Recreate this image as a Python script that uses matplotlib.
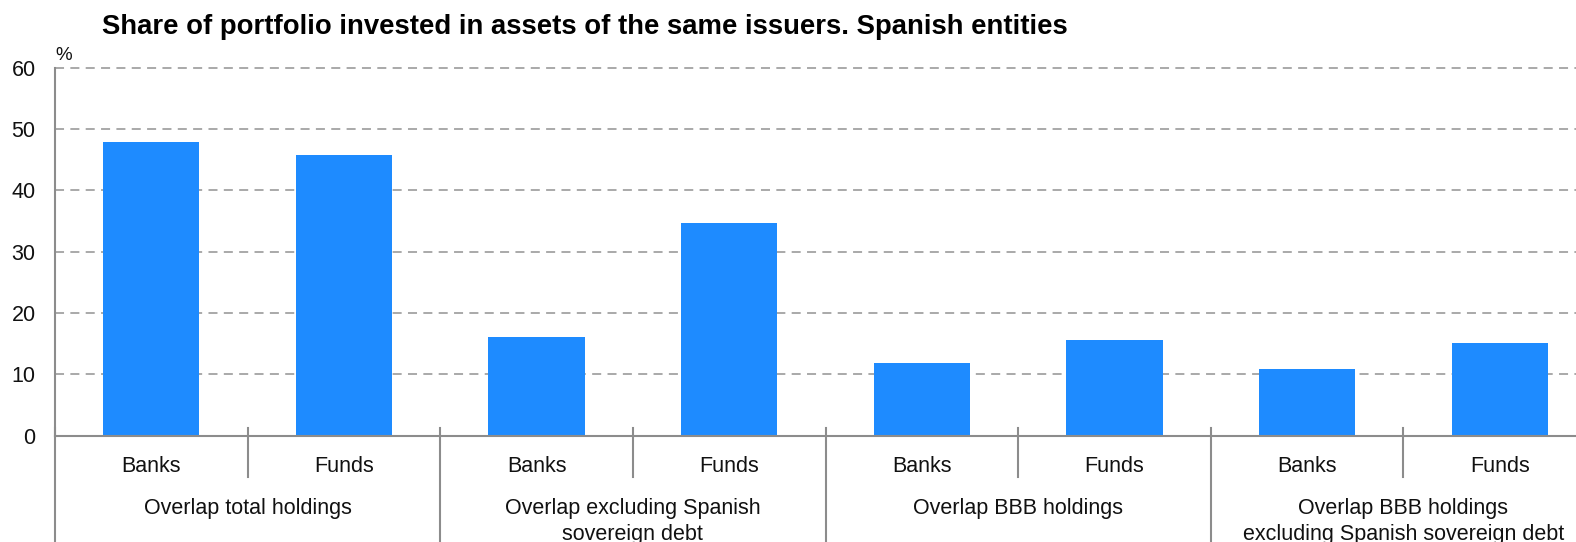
import matplotlib
matplotlib.use("Agg")
import matplotlib.pyplot as plt
from matplotlib.lines import Line2D
from matplotlib.transforms import blended_transform_factory

plt.rcParams['font.family'] = ['Liberation Sans', 'DejaVu Sans']

# Data
groups = ["Overlap total holdings",
          "Overlap excluding Spanish\nsovereign debt",
          "Overlap BBB holdings",
          "Overlap BBB holdings\nexcluding Spanish sovereign debt"]
sectors = ["Banks", "Funds"]
banks = [47.8, 16.1, 11.8, 10.8]
funds = [45.8, 34.7, 15.5, 15.1]
yticks = [0, 10, 20, 30, 40, 50, 60]

title = "Share of portfolio invested in assets of the same issuers. Spanish entities"
bar_color = "#1E8BFF"
grid_color = "#A3A3A3"
axis_color = "#8C8C8C"
text_color = "#111111"

W, H = 1576, 542
fig = plt.figure(figsize=(W / 100, H / 100), dpi=100)

left_px, right_px = 55, 1596
top_px, zero_px = 67.7, 435.5
ax = fig.add_axes([left_px / W, 1 - zero_px / H,
                   (right_px - left_px) / W, (zero_px - top_px) / H])

values = []
for b, f in zip(banks, funds):
    values += [b, f]
positions = list(range(len(values)))
ax.bar(positions, values, width=0.5, color=bar_color, zorder=3)

ax.set_xlim(-0.5, len(values) - 0.5)
ax.set_ylim(0, 60)
ax.set_yticks(yticks)
ax.set_yticklabels([str(t) for t in yticks], fontsize=15.5, color=text_color)
ax.tick_params(axis='y', length=0, pad=14)
ax.set_xticks([])

ax.yaxis.grid(True, linestyle=(0, (5, 3.5)), color=grid_color, linewidth=1.3, zorder=1)
for gl in ax.get_ygridlines():
    gl.set_clip_on(False)
for s in ["top", "right"]:
    ax.spines[s].set_visible(False)
for s in ["left", "bottom"]:
    ax.spines[s].set_color(axis_color)
    ax.spines[s].set_linewidth(1.5)
ax.spines["bottom"].set_zorder(4)

# Category labels and separators below the axis
tr = blended_transform_factory(ax.transData, fig.transFigure)
def fy(px):
    return 1 - px / H

for i in positions:
    ax.text(i, fy(471.5), sectors[i % 2], transform=tr, ha='center',
            va='baseline', fontsize=15.5, color=text_color)

for gi, g in enumerate(groups):
    for li, line in enumerate(g.split("\n")):
        ax.text(2 * gi + 0.5, fy(514 + 26 * li), line, transform=tr,
                ha='center', va='baseline', fontsize=15.5, color=text_color)

# group separators (long) and sector separators (short)
for k in range(0, len(values) + 1, 2):
    x = k - 0.5
    fig.add_artist(Line2D([x, x], [fy(427.7), fy(H)], transform=tr,
                          color=axis_color, linewidth=1.5, clip_on=False))
for k in range(0, len(values), 2):
    x = k + 0.5
    fig.add_artist(Line2D([x, x], [fy(427.7), fy(476.5)], transform=tr,
                          color=axis_color, linewidth=1.5, clip_on=False))

fig.text(102.5 / W, fy(34), title, ha='left', va='baseline',
         fontsize=19.8, fontweight='bold', color='black')
fig.text(55 / W, fy(60.5), "%", ha='left', va='baseline', fontsize=13.5,
         color=text_color)

fig.savefig("out.png", dpi=100)
